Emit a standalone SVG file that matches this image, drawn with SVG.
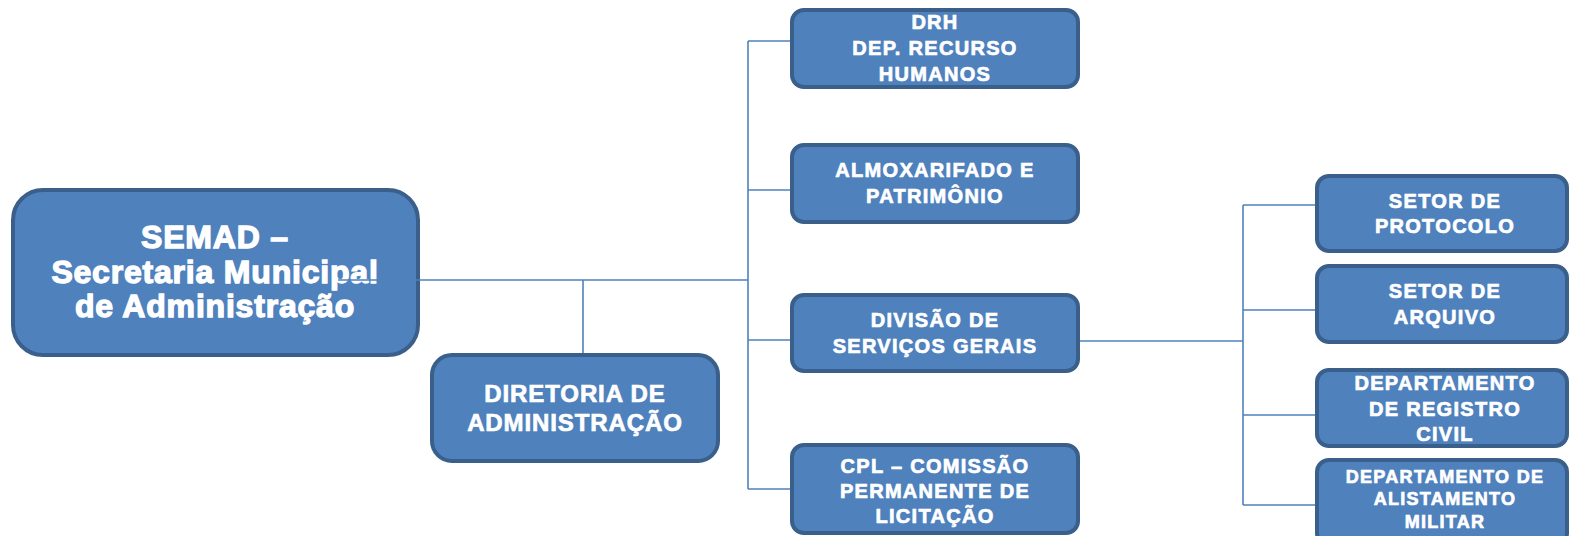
<svg xmlns="http://www.w3.org/2000/svg" width="1570" height="536" viewBox="0 0 1570 536">
<style>
.box{fill:#4F81BD;stroke:#3A5F8B;stroke-width:4}
.t{font-family:"Liberation Sans",Arial,sans-serif;font-weight:bold;fill:#FFFFFF;text-anchor:middle;stroke:#FFFFFF;stroke-width:0.7}
.m{font-size:20px;letter-spacing:1.3px}
.s{font-size:18px;letter-spacing:1.3px}
.big{font-size:32px;letter-spacing:0.8px;stroke-width:1.3}
.dir{font-size:24px;letter-spacing:0.9px}
.c{stroke:#4F81BD;stroke-width:1.6;fill:none}
</style>
<rect width="1570" height="536" fill="#FFFFFF"/>
<g id="semad">
<rect class="box" x="13" y="190" width="405" height="165" rx="30"/>
<text class="t big" x="215" y="248">SEMAD –</text>
<text class="t big" x="215" y="283">Secretaria Municipal</text>
<text class="t big" x="215" y="317">de Administração</text>
</g>
<g id="connectors">
<path class="c" d="M338 280 H748 M583 280 V354 M748 41 V489 M748 41 H792 M748 190 H792 M748 340 H792 M748 489 H792 M1078 341 H1243 M1243 205 V505 M1243 205 H1317 M1243 310 H1317 M1243 415 H1317 M1243 505 H1317"/>
</g>
<g id="diretoria">
<rect class="box" x="432" y="355" width="286" height="106" rx="20"/>
<text class="t dir" x="575" y="402">DIRETORIA DE</text>
<text class="t dir" x="575" y="431">ADMINISTRAÇÃO</text>
</g>
<g id="drh">
<rect class="box" x="792" y="10" width="286" height="77" rx="12"/>
<text class="t m" x="935" y="29">DRH</text>
<text class="t m" x="935" y="55">DEP. RECURSO</text>
<text class="t m" x="935" y="81">HUMANOS</text>
</g>
<g id="almoxarifado">
<rect class="box" x="792" y="145" width="286" height="77" rx="12"/>
<text class="t m" x="935" y="177">ALMOXARIFADO E</text>
<text class="t m" x="935" y="203">PATRIMÔNIO</text>
</g>
<g id="divisao">
<rect class="box" x="792" y="295" width="286" height="76" rx="12"/>
<text class="t m" x="935" y="327">DIVISÃO DE</text>
<text class="t m" x="935" y="353">SERVIÇOS GERAIS</text>
</g>
<g id="cpl">
<rect class="box" x="792" y="445" width="286" height="88" rx="12"/>
<text class="t m" x="935" y="473">CPL – COMISSÃO</text>
<text class="t m" x="935" y="498">PERMANENTE DE</text>
<text class="t m" x="935" y="523">LICITAÇÃO</text>
</g>
<g id="protocolo">
<rect class="box" x="1317" y="176" width="250" height="75" rx="12"/>
<text class="t m" x="1445" y="208">SETOR DE</text>
<text class="t m" x="1445" y="233">PROTOCOLO</text>
</g>
<g id="arquivo">
<rect class="box" x="1317" y="266" width="250" height="76" rx="12"/>
<text class="t m" x="1445" y="298">SETOR DE</text>
<text class="t m" x="1445" y="324">ARQUIVO</text>
</g>
<g id="registro">
<rect class="box" x="1317" y="370" width="250" height="76" rx="12"/>
<text class="t m" x="1445" y="390">DEPARTAMENTO</text>
<text class="t m" x="1445" y="416">DE REGISTRO</text>
<text class="t m" x="1445" y="441">CIVIL</text>
</g>
<g id="alistamento">
<rect class="box" x="1317" y="460" width="250" height="85" rx="12"/>
<text class="t s" x="1445" y="483">DEPARTAMENTO DE</text>
<text class="t s" x="1445" y="505">ALISTAMENTO</text>
<text class="t s" x="1445" y="528">MILITAR</text>
</g>
</svg>
